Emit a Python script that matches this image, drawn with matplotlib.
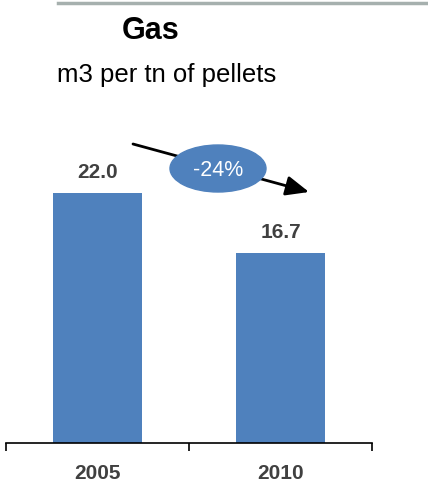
import matplotlib.pyplot as plt
from matplotlib.patches import Ellipse

plt.rcParams['font.family'] = ['Liberation Sans', 'DejaVu Sans']

years = ['2005', '2010']
gas_use = [22.0, 16.7]
change_label = '-24%'

bar_color = '#4F81BD'
text_gray = '#404040'

fig = plt.figure(figsize=(4.28, 4.93), dpi=100)
W, H = 428, 493

# axes spans pixel x 6..372, baseline at y=442
ax = fig.add_axes([6 / W, (H - 442.5) / H, 366 / W, 342 / H])
px_per_unit = 11.32
ax.set_xlim(0, 2)
ax.set_ylim(0, 342 / px_per_unit)

xpos = [0.5, 1.5]
ax.bar(xpos, gas_use, width=0.49, color=bar_color)
for x, v in zip(xpos, gas_use):
    ax.text(x, v + 1.85, f'{v:.1f}', ha='center', va='center',
            fontsize=15, fontweight='bold', color=text_gray)

for side in ['top', 'right', 'left']:
    ax.spines[side].set_visible(False)
ax.spines['bottom'].set_linewidth(1.2)
ax.set_yticks([])
ax.set_xticks([0, 1, 2])
ax.set_xticklabels([])
ax.tick_params(axis='x', length=6, width=1.2, direction='out')
ax.xaxis.get_ticklines()[-2].set_color('#888888')
for x, lab in zip(xpos, years):
    ax.text(x, -31 / px_per_unit, lab, ha='center', va='center',
            fontsize=15, fontweight='bold', color=text_gray)


def fx(px):
    return px / W


def fy(py):
    return 1 - py / H


# trend arrow with the change badge
ax.annotate('', xy=(fx(309), fy(192)), xycoords='figure fraction',
            xytext=(fx(133), fy(144)), textcoords='figure fraction',
            arrowprops=dict(arrowstyle='-|>,head_length=1.4,head_width=0.6',
                            color='black', lw=2, shrinkA=0, shrinkB=0),
            annotation_clip=False)
badge = Ellipse((fx(218), fy(168.5)), 96 / W, 47 / H,
                transform=fig.transFigure, color=bar_color, zorder=5)
fig.add_artist(badge)
fig.text(fx(218), fy(170), change_label, ha='center', va='center',
         fontsize=15.5, color='white', zorder=6)

# header
fig.add_artist(plt.Line2D([fx(58), 1], [fy(2.5), fy(2.5)], color='#A6B0AE', lw=2.5))
fig.text(fx(151), fy(31), 'Gas', ha='center', va='center',
         fontsize=22, fontweight='bold', color='black')
fig.text(fx(57), fy(75), 'm3 per tn of pellets', ha='left', va='center',
         fontsize=18.5, color='black')

fig.savefig('out.png', dpi=100)
